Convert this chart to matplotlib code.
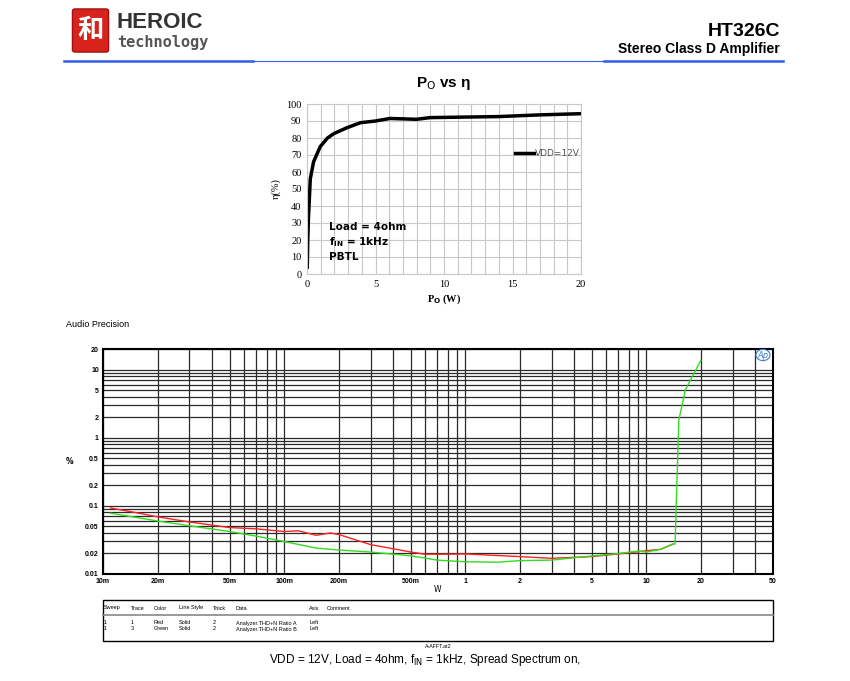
import numpy as np
import matplotlib
matplotlib.use('Agg')
import matplotlib.pyplot as plt
from matplotlib.patches import FancyBboxPatch, Rectangle, Circle
from matplotlib.lines import Line2D

# efficiency chart data
po_w = [0.02, 0.05, 0.1, 0.24, 0.48, 0.97, 1.5, 1.94, 2.9, 3.9, 5.0, 6.06, 8.0, 9.0, 14.0, 17.0, 20.0]
eta = [4, 18, 32, 56, 66, 75, 80, 82.5, 86, 89, 90, 91.5, 91, 92, 92.6, 93.6, 94.3]

# THD+N vs output power data
red_w = [0.011, 0.015, 0.02, 0.03, 0.05, 0.07, 0.1, 0.12, 0.15, 0.18, 0.2, 0.3, 0.5, 0.6, 0.8, 1.0, 2.0, 3.0, 5.0, 7.0, 10.0, 12.0, 14.0]
red_thd = [0.093, 0.08, 0.069, 0.058, 0.048, 0.046, 0.042, 0.043, 0.037, 0.040, 0.038, 0.027, 0.021, 0.0195, 0.0195, 0.0197, 0.018, 0.017, 0.018, 0.0197, 0.022, 0.023, 0.0275]
green_w = [0.011, 0.02, 0.03, 0.05, 0.07, 0.1, 0.15, 0.2, 0.3, 0.5, 0.7, 1.0, 1.5, 2.0, 3.0, 5.0, 7.0, 9.0, 10.0, 12.0, 14.0, 14.4, 15.1, 16.4, 20.0]
green_thd = [0.078, 0.060, 0.051, 0.042, 0.036, 0.030, 0.024, 0.0225, 0.021, 0.0185, 0.016, 0.0151, 0.0149, 0.0157, 0.016, 0.0184, 0.020, 0.0217, 0.021, 0.023, 0.0275, 0.0275, 1.8, 5.0, 13.7]

x_ticks = [0.01, 0.02, 0.05, 0.1, 0.2, 0.5, 1, 2, 5, 10, 20, 50]
x_labels = ['10m', '20m', '50m', '100m', '200m', '500m', '1', '2', '5', '10', '20', '50']
y_ticks = [0.01, 0.02, 0.05, 0.1, 0.2, 0.5, 1, 2, 5, 10, 20]
y_labels = ['0.01', '0.02', '0.05', '0.1', '0.2', '0.5', '1', '2', '5', '10', '20']

W, H = 850, 681
fig = plt.figure(figsize=(8.5, 6.81), dpi=100)

def fx(x):
    return x / W

def fy(y):
    return 1 - y / H

# header
fig.patches.append(FancyBboxPatch((fx(75), fy(50)), fx(31), 39 / H, boxstyle='round,pad=0.003',
                                  transform=fig.transFigure, fc='#d8231c', ec='#a01010', lw=1))
fig.text(fx(90.5), fy(30), '和', family=['Noto Sans CJK SC', 'DejaVu Sans'], color='white',
         fontsize=19, ha='center', va='center', weight='bold')
fig.text(fx(117), fy(22), 'HEROIC', fontsize=16, weight='bold', color='#333333', va='center',
         family='Liberation Sans')
fig.text(fx(117), fy(42), 'technology', fontsize=11, weight='bold', color='#555555', va='center',
         family='DejaVu Sans Mono')
fig.text(fx(780), fy(32), 'HT326C', fontsize=14, weight='bold', ha='right', va='center',
         family='Liberation Sans')
fig.text(fx(780), fy(49), 'Stereo Class D Amplifier', fontsize=10, weight='bold', ha='right', va='center',
         family='Liberation Sans')
fig.lines.append(Line2D([fx(64), fx(783)], [fy(61), fy(61)], transform=fig.transFigure, color='#3060e8', lw=0.8))
fig.lines.append(Line2D([fx(64), fx(253)], [fy(61), fy(61)], transform=fig.transFigure, color='#3060e8', lw=1.8))
fig.lines.append(Line2D([fx(604), fx(783)], [fy(61), fy(61)], transform=fig.transFigure, color='#3060e8', lw=1.8))

# efficiency chart
ax1 = fig.add_axes([fx(307), fy(274), fx(581) - fx(307), (274 - 104) / H])
ax1.plot(po_w, eta, color='black', lw=2.5, label='VDD=12V')
ax1.set_xlim(0, 20)
ax1.set_ylim(0, 100)
ax1.set_xticks(range(0, 21, 5))
ax1.set_xticks(range(0, 21), minor=True)
ax1.set_yticks(range(0, 101, 10))
ax1.grid(which='both', color='#c8c8c8', lw=0.8)
ax1.tick_params(which='both', length=0, labelsize=7.5, pad=4)
for lab in ax1.get_xticklabels() + ax1.get_yticklabels():
    lab.set_family('Liberation Serif')
for s in ax1.spines.values():
    s.set_color('#c8c8c8')
ax1.set_title(r'P$_\mathrm{O}$ vs η', fontsize=11, weight='bold', pad=12, family='Liberation Sans')
ax1.set_xlabel(r'P$_\mathbf{O}$ (W)', fontsize=7.5, weight='bold', family='Liberation Serif', labelpad=3)
ax1.set_ylabel('η(%)', fontsize=7.5, family='Liberation Serif', labelpad=4)
leg = ax1.legend(loc='center left', bbox_to_anchor=(0.73, 0.71), frameon=False, fontsize=6.5,
                 handlelength=2.1, handletextpad=0.05)
for t in leg.get_texts():
    t.set_color('#555555')
ax1.text(0.08, 0.275, 'Load = 4ohm', transform=ax1.transAxes, fontsize=7.5, weight='bold', va='center')
ax1.text(0.08, 0.185, r'f$_\mathbf{IN}$ = 1kHz', transform=ax1.transAxes, fontsize=7.5, weight='bold', va='center')
ax1.text(0.08, 0.1, 'PBTL', transform=ax1.transAxes, fontsize=7.5, weight='bold', va='center')

# THD+N chart
fig.text(fx(66), fy(325), 'Audio Precision', fontsize=6.5, va='center', family='Liberation Sans')
ax2 = fig.add_axes([fx(103), fy(574), fx(773) - fx(103), (574 - 349) / H])
ax2.set_xscale('log')
ax2.set_yscale('log')
ax2.set_xlim(0.01, 50)
ax2.set_ylim(0.01, 20)
ax2.grid(which='both', color='#2a2a2a', lw=0.9)
ax2.plot(red_w, red_thd, color='#ff2020', lw=1.0)
ax2.plot(green_w, green_thd, color='#30dd20', lw=1.0)
ax2.set_xticks(x_ticks)
ax2.set_xticklabels(x_labels)
ax2.set_yticks(y_ticks)
ax2.set_yticklabels(y_labels)
ax2.tick_params(which='both', length=0, labelsize=5, pad=3)
for lab in ax2.get_xticklabels() + ax2.get_yticklabels():
    lab.set_weight('bold')
    lab.set_family('Liberation Sans')
for s in ax2.spines.values():
    s.set_linewidth(1.5)
fig.text(fx(70), fy(461), '%', fontsize=5.5, weight='bold', ha='center', va='center')
fig.text(fx(438), fy(590), 'W', fontsize=5.5, ha='center', va='center')
fig.patches.append(Circle((fx(763), fy(355)), 7 / W, transform=fig.transFigure, fc='white', ec='#3a7fd0', lw=0.8))
fig.text(fx(763), fy(355), 'Ap', fontsize=6, style='italic', color='#3a7fd0', ha='center', va='center')

# sweep table
fig.patches.append(Rectangle((fx(103), fy(641)), fx(773) - fx(103), (641 - 600) / H, transform=fig.transFigure,
                             fc='none', ec='black', lw=1.0))
fig.lines.append(Line2D([fx(103), fx(773)], [fy(615), fy(615)], transform=fig.transFigure, color='#888888', lw=1.2))
cols = [103, 130, 153, 178, 212, 235, 308, 326]
heads = ['Sweep', 'Trace', 'Color', 'Line Style', 'Thick', 'Data', 'Axis', 'Comment']
row1 = ['1', '1', 'Red', 'Solid', '2', 'Analyzer.THD+N Ratio A', 'Left', '']
row2 = ['1', '3', 'Green', 'Solid', '2', 'Analyzer.THD+N Ratio B', 'Left', '']
for x, a, b, c in zip(cols, heads, row1, row2):
    fig.text(fx(x + 1), fy(608), a, fontsize=4, va='center', family='Liberation Sans')
    fig.text(fx(x + 1), fy(623), b, fontsize=4, va='center', family='Liberation Sans')
    fig.text(fx(x + 1), fy(629), c, fontsize=4, va='center', family='Liberation Sans')
fig.text(fx(438), fy(647), 'A-AFFT.at2', fontsize=3.8, ha='center', va='center', family='Liberation Sans')
fig.text(fx(425), fy(660), r'VDD = 12V, Load = 4ohm, f$_\mathrm{IN}$ = 1kHz, Spread Spectrum on,',
         fontsize=8.5, ha='center', va='center', family='Liberation Sans')

fig.savefig('out.png', dpi=100)
